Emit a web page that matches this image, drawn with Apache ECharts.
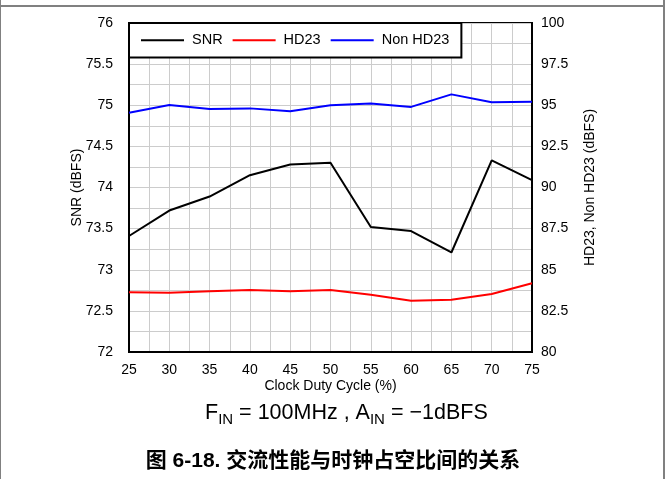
<!DOCTYPE html>
<html>
<head>
<meta charset="utf-8">
<script src="https://cdn.jsdelivr.net/npm/echarts@6/dist/echarts.min.js"></script>
<style>
    html, body { margin: 0; padding: 0; background: #fff; }
    #chart { width: 666px; height: 479px; }
</style>
</head>
<body>
<div id="chart"></div>
<script>
// 横轴：时钟占空比 (%)
var dutyCycle = [25, 30, 35, 40, 45, 50, 55, 60, 65, 70, 75];
// 左轴 SNR (dBFS)
var snr = [73.41, 73.72, 73.89, 74.15, 74.28, 74.30, 73.52, 73.47, 73.21, 74.33, 74.09];
// 右轴 HD23 / Non HD23 (dBFS)
var hd23 = [83.63, 83.60, 83.69, 83.77, 83.69, 83.77, 83.48, 83.12, 83.18, 83.53, 84.18];
var nonHd23 = [94.55, 95.02, 94.77, 94.81, 94.63, 95.00, 95.10, 94.90, 95.66, 95.18, 95.22];

var font = '"Liberation Sans", Arial, "Noto Sans CJK SC", sans-serif';

function pairs(ys) {
    var out = [];
    for (var i = 0; i < dutyCycle.length; i++) {
        out.push([dutyCycle[i], ys[i]]);
    }
    return out;
}

var chart = echarts.init(document.getElementById('chart'));
var option = {
    animation: false,
    textStyle: { fontFamily: font },
    color: ['#000000', '#ff0000', '#0000ff'],
    legend: {
        left: 129,
        top: 23,
        orient: 'horizontal',
        backgroundColor: '#fff',
        borderColor: '#000',
        borderWidth: 2,
        borderRadius: 0,
        padding: [10, 12, 10, 12],
        itemWidth: 43,
        itemHeight: 14,
        itemGap: 10,
        icon: 'path://M0,6 L43,6 L43,8 L0,8 Z',
        textStyle: { fontSize: 14.5, color: '#000', fontFamily: font, padding: [0, 0, 0, 3] },
        data: ['SNR', 'HD23', 'Non HD23']
    },
    grid: {
        show: true,
        left: 129,
        right: 134,
        top: 23,
        bottom: 127,
        borderColor: '#000',
        borderWidth: 2,
        containLabel: false
    },
    xAxis: {
        type: 'value',
        min: 25,
        max: 75,
        interval: 5,
        name: 'Clock Duty Cycle (%)',
        nameLocation: 'middle',
        nameGap: 27,
        nameMoveOverlap: false,
        nameTextStyle: { fontSize: 14, color: '#000' },
        axisLine: { show: true, lineStyle: { color: '#000', width: 2 } },
        axisTick: { show: false },
        axisLabel: { fontSize: 14, color: '#000', margin: 11 },
        splitLine: { show: true, lineStyle: { color: '#cccccc', width: 1 } },
        minorTick: { show: false, splitNumber: 2 },
        minorSplitLine: { show: true, lineStyle: { color: '#cccccc', width: 1 } }
    },
    yAxis: [{
        type: 'value',
        position: 'left',
        min: 72,
        max: 76,
        interval: 0.5,
        name: 'SNR (dBFS)',
        nameLocation: 'middle',
        nameGap: 45,
        nameMoveOverlap: false,
        nameTextStyle: { fontSize: 14, color: '#000' },
        axisLine: { show: true, lineStyle: { color: '#000', width: 2 } },
        axisTick: { show: false },
        axisLabel: { fontSize: 14, color: '#000', margin: 16 },
        splitLine: { show: true, lineStyle: { color: '#cccccc', width: 1 } },
        minorTick: { show: false, splitNumber: 2 },
        minorSplitLine: { show: true, lineStyle: { color: '#cccccc', width: 1 } }
    }, {
        type: 'value',
        position: 'right',
        min: 80,
        max: 100,
        interval: 2.5,
        name: 'HD23, Non HD23 (dBFS)',
        nameLocation: 'middle',
        nameGap: 51,
        nameMoveOverlap: false,
        nameTextStyle: { fontSize: 14, color: '#000' },
        axisLine: { show: true, lineStyle: { color: '#000', width: 2 } },
        axisTick: { show: false },
        axisLabel: { fontSize: 14, color: '#000', margin: 9 },
        splitLine: { show: false }
    }],
    series: [{
        type: 'line',
        name: 'SNR',
        yAxisIndex: 0,
        symbol: 'none',
        lineStyle: { width: 2 },
        data: pairs(snr)
    }, {
        type: 'line',
        name: 'HD23',
        yAxisIndex: 1,
        symbol: 'none',
        lineStyle: { width: 2 },
        data: pairs(hd23)
    }, {
        type: 'line',
        name: 'Non HD23',
        yAxisIndex: 1,
        symbol: 'none',
        lineStyle: { width: 2 },
        data: pairs(nonHd23)
    }],
    graphic: [
        // 外框
        { type: 'rect', left: 0, top: 5, shape: { width: 664, height: 2 }, style: { fill: '#808080' } },
        { type: 'rect', left: 0, top: 0, shape: { width: 1, height: 479 }, style: { fill: '#808080' } },
        { type: 'rect', left: 663, top: 0, shape: { width: 2, height: 479 }, style: { fill: '#808080' } },
        // 测试条件
        {
            type: 'text',
            left: 205,
            top: 401,
            style: {
                text: '{n|F}{s|IN}{n| = 100MHz , A}{s|IN}{n| = \u22121dBFS}',
                rich: {
                    n: { fontSize: 21.5, lineHeight: 25, verticalAlign: 'top', fontFamily: font, fill: '#000' },
                    s: { fontSize: 15, lineHeight: 15, verticalAlign: 'bottom', padding: [11, 0, 0, 0], fontFamily: font, fill: '#000' }
                }
            }
        },
        // 图题
        {
            type: 'text',
            left: 'center',
            top: 451,
            style: {
                text: '图 6-18. 交流性能与时钟占空比间的关系',
                font: 'bold 21px "Liberation Sans", "Noto Sans CJK SC", sans-serif',
                fill: '#000'
            }
        }
    ]
};
chart.setOption(option);
window.addEventListener('resize', function () {
    chart.resize();
});
</script>
</body>
</html>
